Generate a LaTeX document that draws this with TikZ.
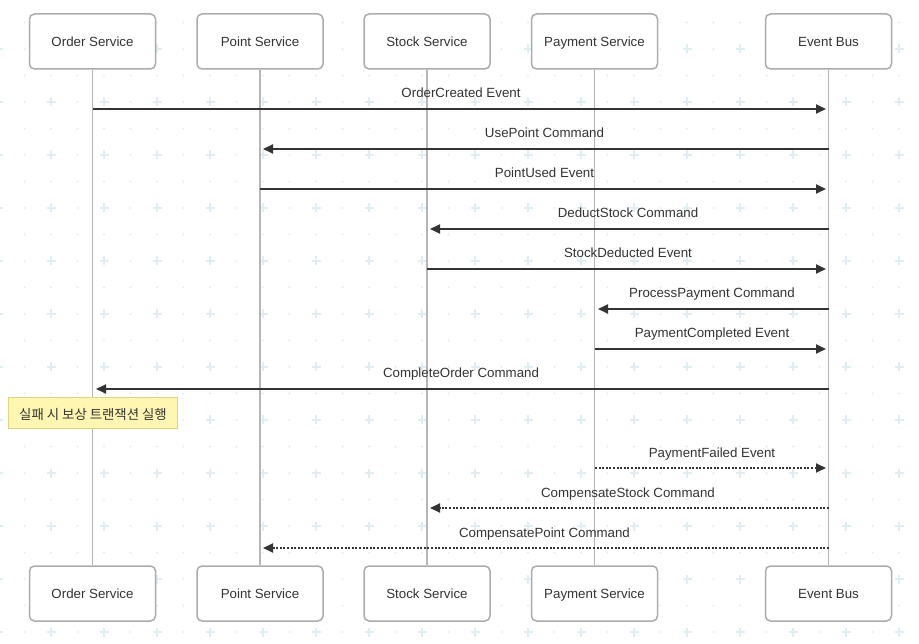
\documentclass[tikz,border=0pt]{standalone}
\usepackage{fontspec}
\setmainfont{Liberation Sans}
\newfontfamily\krfont{Noto Sans CJK KR}
\usetikzlibrary{arrows.meta}
\definecolor{gridc}{RGB}{222,238,243}
\definecolor{boxborder}{RGB}{172,172,172}
\definecolor{lifec}{RGB}{182,182,182}
\definecolor{msgc}{RGB}{51,51,51}
\definecolor{notefill}{RGB}{255,246,178}
\definecolor{noteborder}{RGB}{222,212,128}
\begin{document}
\begin{tikzpicture}[x=1pt,y=-1pt,
  actor/.style={draw=boxborder, line width=1.5pt, fill=white, rounded corners=5pt,
    minimum width=126pt, minimum height=55pt, inner sep=0pt, text height=12pt, text depth=2pt,
    font=\fontsize{13.3}{16}\selectfont, text=msgc},
  life/.style={draw=lifec, line width=1.6pt},
  msg/.style={draw=msgc, line width=1.8pt, -{Triangle[length=10pt,width=9pt]}, shorten >=3pt},
  reply/.style={msg, dash pattern=on 2pt off 1.6pt},
  lbl/.style={font=\fontsize{13.3}{16}\selectfont, text=msgc, inner sep=0pt, anchor=base, yshift=11pt},
  note/.style={draw=noteborder, fill=notefill, line width=1pt, minimum width=169pt,
    minimum height=31pt, inner sep=0pt, text height=16pt, text depth=3pt, text=msgc}
]
\useasboundingbox (0,0) rectangle (919,644);
\fill[white] (0,0) rectangle (919,644);
\begin{scope}
\clip (0,0) rectangle (919,644);
\foreach \i in {0,...,35}{
  \foreach \j in {0,...,25}{
    \fill[gridc] ({-2+26.5*\i},{-4+26.5*\j}) circle (1.2pt);
  }
}
\foreach \i in {0,...,17}{
  \foreach \j in {0,...,12}{
    \draw[gridc, line width=1.4pt] ({-2+53*\i-4.5},{-4+53*\j}) -- ({-2+53*\i+4.5},{-4+53*\j})
      ({-2+53*\i},{-4+53*\j-4.5}) -- ({-2+53*\i},{-4+53*\j+4.5});
  }
}
\end{scope}

% actors
\node[actor] (oT) at (92.5,41.5) {Order Service};
\node[actor] (pT) at (260,41.5) {Point Service};
\node[actor] (sT) at (427,41.5) {Stock Service};
\node[actor] (yT) at (594.5,41.5) {Payment Service};
\node[actor] (eT) at (828.5,41.5) {Event Bus};
\node[actor] (oB) at (92.5,593.5) {Order Service};
\node[actor] (pB) at (260,593.5) {Point Service};
\node[actor] (sB) at (427,593.5) {Stock Service};
\node[actor] (yB) at (594.5,593.5) {Payment Service};
\node[actor] (eB) at (828.5,593.5) {Event Bus};

% lifelines
\draw[life] (oT.south) -- (oB.north);
\draw[life] (pT.south) -- (pB.north);
\draw[life] (sT.south) -- (sB.north);
\draw[life] (yT.south) -- (yB.north);
\draw[life] (eT.south) -- (eB.north);

% message end points
\coordinate (a1) at (93,109);  \coordinate (b1) at (829,109);
\coordinate (a2) at (829,149); \coordinate (b2) at (260,149);
\coordinate (a3) at (260,189); \coordinate (b3) at (829,189);
\coordinate (a4) at (829,229); \coordinate (b4) at (427,229);
\coordinate (a5) at (427,269); \coordinate (b5) at (829,269);
\coordinate (a6) at (829,309); \coordinate (b6) at (595,309);
\coordinate (a7) at (595,349); \coordinate (b7) at (829,349);
\coordinate (a8) at (829,389); \coordinate (b8) at (93,389);
\coordinate (a9) at (595,468); \coordinate (b9) at (829,468);
\coordinate (a10) at (829,508); \coordinate (b10) at (427,508);
\coordinate (a11) at (829,548); \coordinate (b11) at (260,548);

\draw[msg] (a1) -- (b1) node[lbl, midway] (l1) {OrderCreated Event};
\draw[msg] (a2) -- (b2) node[lbl, midway] (l2) {UsePoint Command};
\draw[msg] (a3) -- (b3) node[lbl, midway] (l3) {PointUsed Event};
\draw[msg] (a4) -- (b4) node[lbl, midway] (l4) {DeductStock Command};
\draw[msg] (a5) -- (b5) node[lbl, midway] (l5) {StockDeducted Event};
\draw[msg] (a6) -- (b6) node[lbl, midway] (l6) {ProcessPayment Command};
\draw[msg] (a7) -- (b7) node[lbl, midway] (l7) {PaymentCompleted Event};
\draw[msg] (a8) -- (b8) node[lbl, midway] (l8) {CompleteOrder Command};

\node[note] (n1) at (93,413.5) {\krfont\fontsize{13.4}{16}\selectfont 실패 시 보상 트랜잭션 실행};

\draw[reply] (a9) -- (b9) node[lbl, midway] (l9) {PaymentFailed Event};
\draw[reply] (a10) -- (b10) node[lbl, midway] (l10) {CompensateStock Command};
\draw[reply] (a11) -- (b11) node[lbl, midway] (l11) {CompensatePoint Command};
\end{tikzpicture}
\end{document}
